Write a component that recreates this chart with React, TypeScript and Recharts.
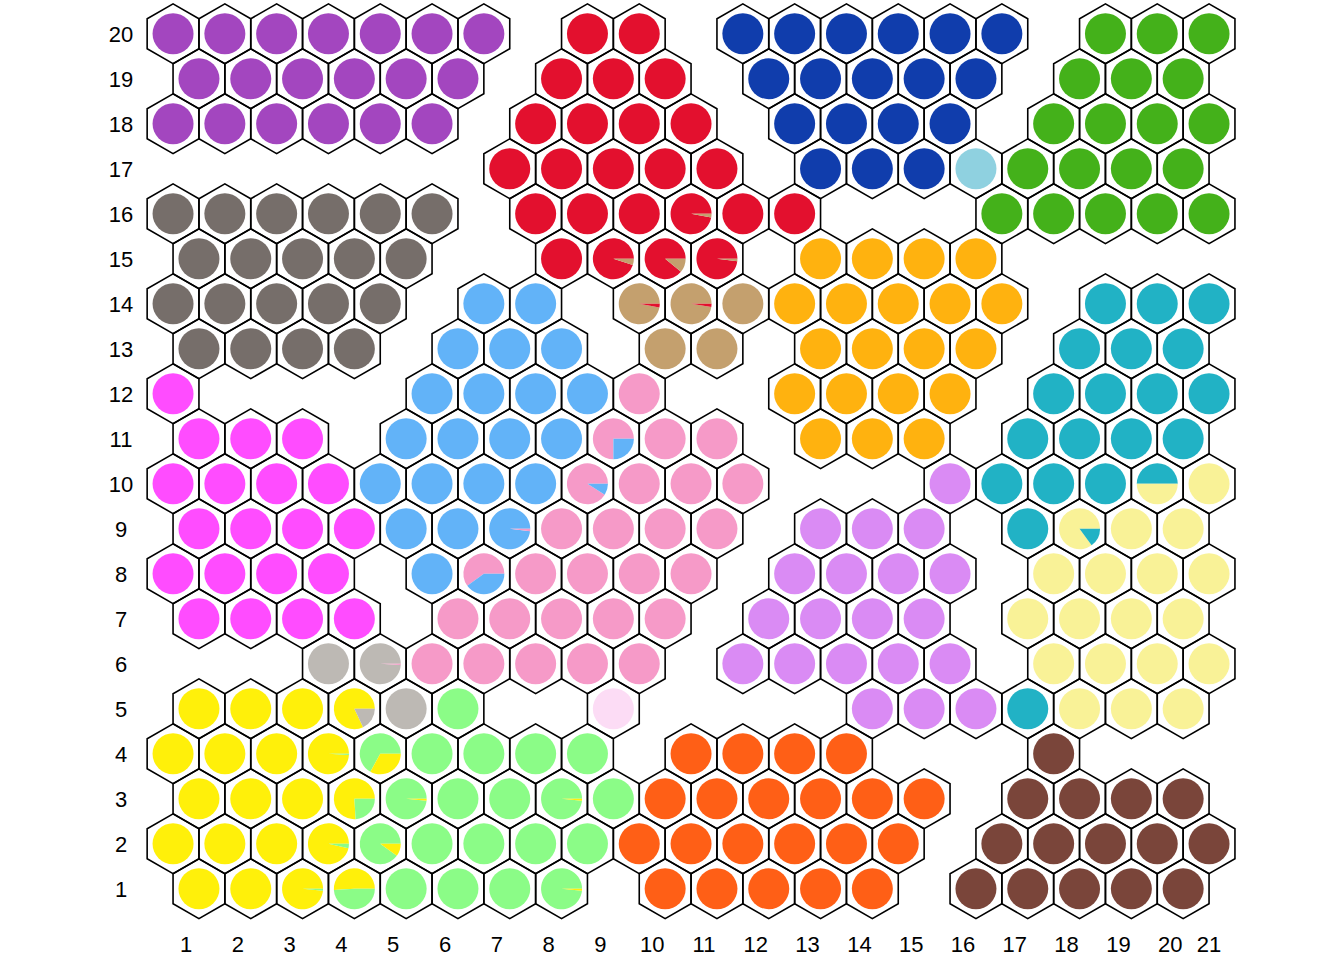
import { ScatterChart, Scatter, XAxis, YAxis } from 'recharts';

// colour of each class code
const classColors: Record<string, string> = {
  P: '#A346BF', K: '#766E6A', R: '#E3102E', B: '#103DAC', G: '#44B11A',
  C: '#8FD1E0', O: '#FFB20F', L: '#62B3F8', T: '#C4A06E', N: '#F69AC8',
  M: '#FF4CFF', F: '#FF5F16', V: '#DA8BF4', Q: '#21B2C5', W: '#F9F297',
  Y: '#FFF00A', E: '#8BFC87', S: '#BDB9B4', I: '#FCDCF5', D: '#7A453A',
};

// one string per grid row, row 1 first; '.' = no unit there
const gridRows = [
  'YYYYEEEE.FFFFF.DDDDD',
  'YYYYEEEEEFFFFFF.DDDDD',
  'YYYYEEEEEFFFFFF.DDDD',
  'YYYYEEEEE.FFFF...D',
  'YYYYSE..I....VVVQWWW',
  '...SSNNNNN.VVVVV.WWWW',
  'MMMM.NNNNN.VVVV.WWWW',
  'MMMM.LNNNNN.VVVV.WWWW',
  'MMMMLLLNNNN.VVV.QWWW',
  'MMMMLLLLNNNN...VQQQQW',
  'MMM.LLLLNNN.OOO.QQQQ',
  'M....LLLLN..OOOO.QQQQ',
  'KKKK.LLL.TT.OOOO.QQQ',
  'KKKKK.LL.TTTOOOOO.QQQ',
  'KKKKK..RRRR.OOOO',
  'KKKKKK.RRRRRR...GGGGG',
  '......RRRRR.BBBCGGGG',
  'PPPPPP.RRRR.BBBB.GGGG',
  'PPPPPP.RRR.BBBBB.GGG',
  'PPPPPPP.RR.BBBBBB.GGG',
];

// units holding more than one class: [row, col, [code, share]...], largest first
const mixedUnits: [number, number, [string, number][]][] = [
  [16, 11, [['R', 0.97], ['T', 0.03]]],
  [15, 9, [['R', 0.95], ['T', 0.05]]],
  [15, 10, [['R', 0.89], ['T', 0.11]]],
  [15, 11, [['R', 0.98], ['T', 0.02]]],
  [14, 10, [['T', 0.97], ['R', 0.03]]],
  [14, 11, [['T', 0.975], ['R', 0.025]]],
  [11, 9, [['N', 0.75], ['L', 0.25]]],
  [10, 9, [['N', 0.91], ['L', 0.09]]],
  [10, 20, [['Q', 0.5], ['W', 0.5]]],
  [9, 7, [['L', 0.98], ['N', 0.02]]],
  [9, 18, [['W', 0.85], ['Q', 0.15]]],
  [8, 7, [['N', 0.6], ['L', 0.4]]],
  [6, 5, [['S', 0.99], ['N', 0.01]]],
  [5, 4, [['Y', 0.82], ['S', 0.18]]],
  [4, 4, [['Y', 0.99], ['E', 0.01]]],
  [4, 5, [['E', 0.67], ['Y', 0.33]]],
  [3, 4, [['Y', 0.76], ['E', 0.24]]],
  [3, 5, [['E', 0.985], ['Y', 0.015]]],
  [3, 8, [['E', 0.985], ['Y', 0.015]]],
  [2, 4, [['Y', 0.965], ['E', 0.035]]],
  [2, 5, [['E', 0.9], ['Y', 0.1]]],
  [1, 3, [['Y', 0.985], ['E', 0.015]]],
  [1, 4, [['Y', 0.51], ['E', 0.49]]],
  [1, 8, [['E', 0.985], ['Y', 0.015]]],
];

const xTicks = [1, 2, 3, 4, 5, 6, 7, 8, 9, 10, 11, 12, 13, 14, 15, 16, 17, 18, 19, 20, 20.75];
const xTickLabels = ['1', '2', '3', '4', '5', '6', '7', '8', '9', '10', '11', '12', '13', '14', '15', '16', '17', '18', '19', '20', '21'];
const yTicks = [1, 2, 3, 4, 5, 6, 7, 8, 9, 10, 11, 12, 13, 14, 15, 16, 17, 18, 19, 20];

const units = gridRows.flatMap((codes, ri) => {
  const row = ri + 1;
  return codes.split('').flatMap((code, ci) => {
    if (code === '.') return [];
    const col = ci + 1;
    const mix = mixedUnits.find((m) => m[0] === row && m[1] === col);
    return [{
      x: col + (row % 2 === 1 ? 0.25 : -0.25),
      y: row,
      parts: mix ? mix[2] : [[code, 1]] as [string, number][],
    }];
  });
});

const W = 1344;
const H = 960;
const X_UNIT = 51.8; // px per grid column
const HEX_R = X_UNIT / Math.sqrt(3);
const DOT_R = 20.5;

function UnitShape(props: any) {
  const { cx, cy, payload } = props;
  const hex = [30, 90, 150, 210, 270, 330]
    .map((d) => {
      const a = (d * Math.PI) / 180;
      return `${cx + HEX_R * Math.cos(a)},${cy - HEX_R * Math.sin(a)}`;
    })
    .join(' ');
  const parts: [string, number][] = payload.parts;
  let start = 0;
  const slices = parts.map(([code, share], i) => {
    const color = classColors[code];
    if (share >= 1) return <circle key={i} cx={cx} cy={cy} r={DOT_R} fill={color} />;
    const a0 = start * 2 * Math.PI;
    const a1 = (start + share) * 2 * Math.PI;
    start += share;
    const x0 = cx + DOT_R * Math.cos(a0);
    const y0 = cy - DOT_R * Math.sin(a0);
    const x1 = cx + DOT_R * Math.cos(a1);
    const y1 = cy - DOT_R * Math.sin(a1);
    const large = a1 - a0 > Math.PI ? 1 : 0;
    return (
      <path
        key={i}
        d={`M${cx},${cy} L${x0},${y0} A${DOT_R},${DOT_R} 0 ${large} 0 ${x1},${y1} Z`}
        fill={color}
      />
    );
  });
  return (
    <g>
      <polygon points={hex} fill="none" stroke="#000" strokeWidth={1.6} strokeLinejoin="miter" />
      {slices}
    </g>
  );
}

const tickStyle = { fontSize: 22, fill: '#000', fontFamily: 'Liberation Sans, Arial, sans-serif' };

export default function App() {
  return (
    <div style={{ position: 'absolute', left: 0, top: 0, width: W, height: H, background: '#fff' }}>
      <ScatterChart width={W} height={H} margin={{ top: 0, right: 70.2, bottom: 0, left: 0 }}>
        <XAxis
          type="number"
          dataKey="x"
          domain={[0, 22]}
          ticks={xTicks}
          tickFormatter={(v: number) => xTickLabels[xTicks.indexOf(v)]}
          axisLine={false}
          tickLine={false}
          tickMargin={7.5}
          height={37.5}
          interval={0}
          tick={tickStyle}
        />
        <YAxis
          type="number"
          dataKey="y"
          domain={[0.25, 20.75]}
          ticks={yTicks}
          axisLine={false}
          tickLine={false}
          tickSize={0}
          tickMargin={13.2}
          width={134.2}
          interval={0}
          tick={{ ...tickStyle, textAnchor: 'middle' }}
        />
        <Scatter data={units} shape={(p: any) => <UnitShape {...p} />} isAnimationActive={false} />
      </ScatterChart>
    </div>
  );
}
